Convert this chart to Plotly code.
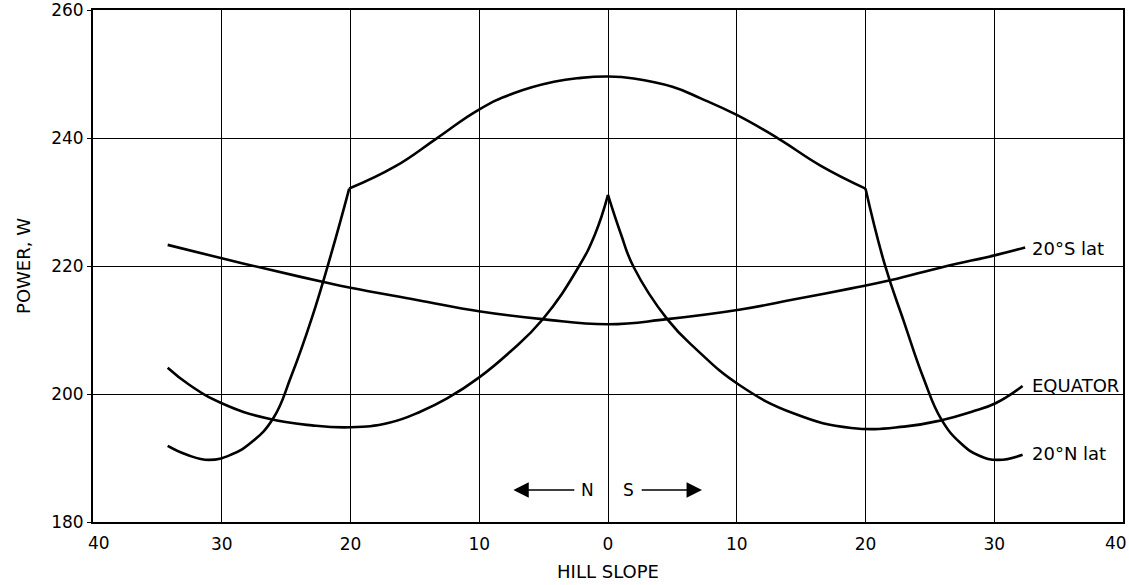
import plotly.graph_objects as go

# Hill slope in degrees: negative = north-facing, positive = south-facing.
# Each curve is split at its cusps so the smooth pieces meet at a sharp corner.

# 20°N latitude
n20_x = [-34.2, -32.7, -31.0, -29.3, -27.6, -26.0, -24.6, -23.0, -21.5, -20.1,
         -16.5, -13.3, -10.05, -7.33, -4.2, -2.1, 0.0, 2.0, 5.0, 7.2, 10.0, 13.2, 16.5, 20.0,
         21.5, 23.0, 24.5, 25.9, 27.4, 28.8, 30.3, 32.2]
n20_y = [191.9, 190.5, 189.7, 190.5, 192.6, 196.2, 202.8, 211.9, 221.9, 232.1,
         235.6, 239.95, 244.4, 247.0, 248.8, 249.4, 249.6, 249.3, 248.0, 246.2, 243.6, 239.95, 235.7, 232.1,
         220.2, 211.2, 202.5, 196.0, 192.3, 190.4, 189.7, 190.5]
n20_cusps = [9, 23]

# Equator
eq_x = [-34.2, -32.5, -30.0, -26.5, -23.0, -20.0, -17.0, -14.5, -12.5, -10.0, -7.6, -5.1, -2.3, -1.0, 0.0,
        1.0, 2.0, 4.6, 6.9, 10.2, 14.5, 18.9, 23.0, 25.9, 28.2, 30.1, 32.2]
eq_y = [204.1, 201.4, 198.55, 196.2, 195.1, 194.8, 195.5, 197.3, 199.3, 202.6, 206.6, 211.6, 219.8, 225.0, 231.1,
        225.0, 219.8, 211.7, 206.9, 201.4, 196.9, 194.7, 194.9, 195.9, 197.2, 198.55, 201.25]
eq_cusps = [14]

# 20°S latitude
s20_x = [-34.2, -30.0, -26.65, -22.1, -20.0, -14.85, -9.9, -5.1, 0.0, 4.6, 10.3, 14.5, 18.9, 22.0,
         26.1, 30.1, 32.4]
s20_y = [223.3, 221.2, 219.6, 217.5, 216.6, 214.7, 212.9, 211.7, 210.9, 211.7, 213.2, 214.8, 216.5, 217.8,
         219.9, 221.7, 222.9]
s20_cusps = []

curve_labels = ["20°S lat", "EQUATOR", "20°N lat"]
label_y = [222.8, 201.3, 190.7]

x_ticks = [-40, -30, -20, -10, 0, 10, 20, 30, 40]
x_tick_text = ["40", "30", "20", "10", "0", "10", "20", "30", "40"]
y_ticks = [180, 200, 220, 240, 260]

FONT = "DejaVu Sans"
INK = "black"


def pieces(xs, ys, cusps):
    bounds = [0] + cusps + [len(xs) - 1]
    for a, b in zip(bounds[:-1], bounds[1:]):
        yield xs[a:b + 1], ys[a:b + 1]


fig = go.Figure()
for xs, ys, cs in [(n20_x, n20_y, n20_cusps), (eq_x, eq_y, eq_cusps), (s20_x, s20_y, s20_cusps)]:
    for px, py in pieces(xs, ys, cs):
        fig.add_trace(go.Scatter(
            x=px, y=py, mode="lines",
            line=dict(color=INK, width=2.6, shape="spline", smoothing=1.3),
            showlegend=False, hoverinfo="skip",
        ))

# Curve names at the right-hand ends
for text, yv in zip(curve_labels, label_y):
    fig.add_annotation(x=32.8, y=yv, text=text, showarrow=False,
                       xanchor="left", yanchor="middle",
                       font=dict(family=FONT, size=18, color=INK))

# Direction indicator N <-> S
fig.add_annotation(x=-1.6, y=185, text="N", showarrow=False,
                   font=dict(family=FONT, size=17, color=INK))
fig.add_annotation(x=1.6, y=185, text="S", showarrow=False,
                   font=dict(family=FONT, size=17, color=INK))
fig.add_annotation(x=-7.35, y=185, ax=-2.5, ay=185, axref="x", ayref="y",
                   text="", showarrow=True, arrowhead=2, arrowsize=2.2,
                   arrowwidth=1.4, arrowcolor=INK)
fig.add_annotation(x=7.3, y=185, ax=2.5, ay=185, axref="x", ayref="y",
                   text="", showarrow=True, arrowhead=2, arrowsize=2.2,
                   arrowwidth=1.4, arrowcolor=INK)

# The two end labels of the slope axis sit just inside the frame
shown_text = [t if abs(v) < 40 else "" for v, t in zip(x_ticks, x_tick_text)]
for v, t in zip(x_ticks, x_tick_text):
    if abs(v) == 40:
        fig.add_annotation(x=v, y=0, xref="x", yref="paper", text=t, showarrow=False,
                           xanchor="center", yanchor="middle",
                           xshift=6 if v < 0 else -7, yshift=-21,
                           font=dict(family=FONT, size=17, color=INK))

fig.update_layout(
    width=1129, height=585,
    margin=dict(l=93, r=6, t=10, b=63),
    paper_bgcolor="white", plot_bgcolor="white",
    font=dict(family=FONT, size=17, color=INK),
    xaxis=dict(
        range=[-40, 40], tickvals=x_ticks, ticktext=shown_text, automargin=False,
        showgrid=True, gridcolor=INK, gridwidth=1.3,
        showline=True, linecolor=INK, linewidth=2, mirror=True,
        zeroline=False, ticks="", ticklabelstandoff=6,
        title=dict(text="HILL SLOPE", font=dict(family=FONT, size=18), standoff=12),
    ),
    yaxis=dict(
        range=[180, 260], tickvals=y_ticks, ticklabeloverflow="allow", automargin=False,
        showgrid=True, gridcolor=INK, gridwidth=1.3,
        showline=True, linecolor=INK, linewidth=2, mirror=True,
        zeroline=False, ticks="outside", ticklen=4, tickcolor=INK,
        title=dict(text="POWER, W", font=dict(family=FONT, size=18), standoff=16),
    ),
)

fig.write_html("out.html")
